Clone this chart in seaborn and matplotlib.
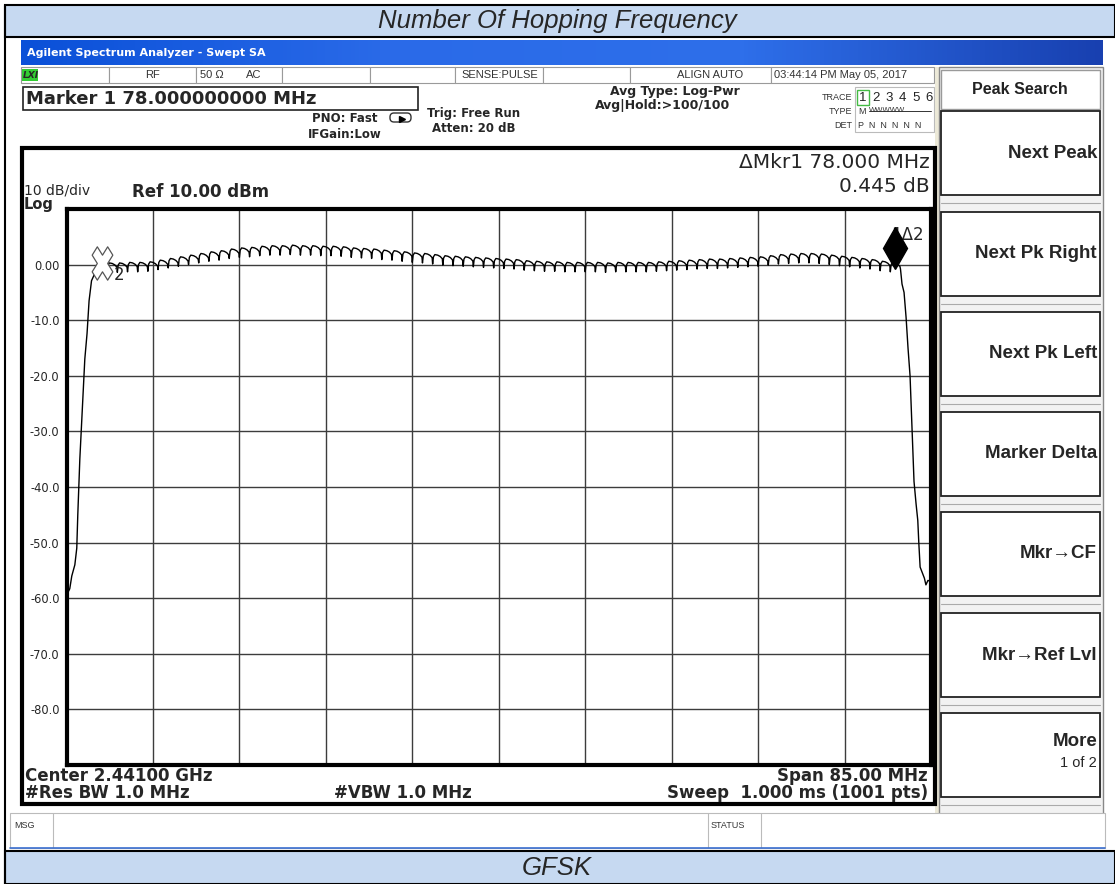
import numpy as np
import pandas as pd
import matplotlib
matplotlib.use("Agg")
import matplotlib.pyplot as plt
import seaborn as sns
from matplotlib.patches import Rectangle, FancyBboxPatch
from matplotlib.colors import LinearSegmentedColormap
from matplotlib.transforms import offset_copy, Affine2D
from matplotlib.markers import MarkerStyle

# ---- data ----
channel_mhz = list(range(2402, 2481))
channel_peak_db = [
    0.2, 0.3, 0.3, 0.4, 0.4, 0.5, 0.8, 1.1, 1.4, 1.7,
    2.0, 2.3, 2.5, 2.8, 3.0, 3.1, 3.3, 3.4, 3.4, 3.5,
    3.4, 3.4, 3.3, 3.3, 3.2, 3.0, 2.9, 2.8, 2.6, 2.5,
    2.3, 2.1, 2.0, 1.8, 1.6, 1.5, 1.4, 1.3, 1.2, 1.1,
    1.0, 0.9, 0.7, 0.6, 0.5, 0.5, 0.4, 0.4, 0.4, 0.4,
    0.3, 0.4, 0.4, 0.4, 0.4, 0.5, 0.6, 0.7, 0.8, 0.9,
    1.0, 1.0, 1.1, 1.2, 1.3, 1.4, 1.6, 1.8, 1.9, 2.0,
    2.0, 1.9, 1.7, 1.5, 1.3, 1.1, 0.9, 0.6, 0.4,
]
# shape of one hop channel under max hold (offset from channel centre)
lobe_offset_mhz = [-0.5, -0.42, -0.28, 0.0, 0.25, 0.45]
lobe_shape_db = [-1.7, -0.4, 0.0, -0.1, -0.35, -0.75]

left_skirt_mhz = [2398.5, 2398.63, 2398.82, 2399.02, 2399.32, 2399.51, 2399.61,
                  2399.81, 2400.1, 2400.3, 2400.52, 2400.72, 2400.96, 2401.28]
left_skirt_db = [-59.4, -59.0, -58.3, -56.0, -54.0, -51.0, -45.0,
                 -35.0, -24.4, -17.0, -12.4, -6.5, -2.9, -1.6]
right_skirt_mhz = [2480.5, 2480.65, 2480.85, 2481.05, 2481.24, 2481.44, 2481.64,
                   2481.83, 2482.03, 2482.2, 2482.3, 2482.43, 2482.62, 2482.85,
                   2483.0, 2483.2, 2483.5]
right_skirt_db = [-0.8, -3.5, -5.0, -9.5, -15.0, -20.0, -30.0,
                  -39.0, -43.0, -46.0, -50.0, -54.4, -55.3, -56.4,
                  -57.6, -56.8, -57.0]

y_ticks_db = [0, -10, -20, -30, -40, -50, -60, -70, -80]
y_tick_labels = ["0.00", "-10.0", "-20.0", "-30.0", "-40.0", "-50.0", "-60.0", "-70.0", "-80.0"]
center_mhz = 2441.0
span_mhz = 85.0
ref_db = 10.0
div_db = 10.0

softkeys = ["Next Peak", "Next Pk Right", "Next Pk Left", "Marker Delta",
            "Mkr\u2192CF", "Mkr\u2192Ref Lvl"]

# ---- build trace ----
freq = list(left_skirt_mhz)
level = list(left_skirt_db)
for ch, pk in zip(channel_mhz, channel_peak_db):
    for off, sh in zip(lobe_offset_mhz, lobe_shape_db):
        freq.append(ch + off)
        level.append(pk + sh)
freq += right_skirt_mhz
level += right_skirt_db
trace = pd.DataFrame({"freq": freq, "db": level})

sns.set_style("white")
plt.rcParams["font.family"] = ["DejaVu Sans"]

W, H = 1115, 884
fig = plt.figure(figsize=(W / 100, H / 100), dpi=100)
bg = fig.add_axes([0, 0, 1, 1])
bg.axis("off")

band = "#C6D9F1"
# top / bottom caption bands
bg.add_patch(Rectangle((5, 5), 1110, 32, facecolor=band, edgecolor="black", lw=1.5))
bg.add_patch(Rectangle((5, 851), 1110, 33, facecolor=band, edgecolor="black", lw=1.5))
bg.plot([5, 5], [5, 884], color="black", lw=1.5)
bg.text(557, 21, "Number Of Hopping Frequency", ha="center", va="center", fontsize=18.5,
        style="italic", family="Liberation Sans")
bg.text(557, 868, "GFSK", ha="center", va="center", fontsize=18.5,
        style="italic", family="Liberation Sans")

# window title bar
blue = LinearSegmentedColormap.from_list("xp", ["#0A50D8", "#2A6AE8", "#2E6FEA", "#1840B0"])
bg.imshow(np.linspace(0, 1, 256)[None, :], cmap=blue, aspect="auto",
          extent=(21, 1103, 65, 40), zorder=1)
bg.text(27, 53, "Agilent Spectrum Analyzer - Swept SA", color="white", fontsize=8,
        fontweight="bold", va="center")

# status row
for x0, x1 in [(21, 109), (109, 196), (196, 282), (282, 370), (370, 455), (455, 543),
               (543, 630), (630, 771), (771, 934)]:
    bg.add_patch(Rectangle((x0, 67), x1 - x0, 16, facecolor="white", edgecolor="#9A9A9A", lw=0.8))
bg.add_patch(Rectangle((22, 69), 16, 12, facecolor="#33CC33", edgecolor="none"))
bg.text(23, 75.5, "LXI", fontsize=6.5, fontweight="bold", style="italic", va="center")
st = dict(fontsize=8, color="#333333", va="center", family="Liberation Sans")
bg.text(152, 75.5, "RF", ha="center", **st)
bg.text(200, 75.5, "50 \u03a9", **st)
bg.text(246, 75.5, "AC", **st)
bg.text(500, 75.5, "SENSE:PULSE", ha="center", **st)
bg.text(743, 75.5, "ALIGN AUTO", ha="right", **st)
bg.text(774, 75.5, "03:44:14 PM May 05, 2017", **st)

# marker readout box
bg.add_patch(Rectangle((23, 87), 395, 23, facecolor="white", edgecolor="#222222", lw=1.2))
bg.text(26, 99, "Marker 1 78.000000000 MHz", fontsize=13, fontweight="bold", va="center")
sm = dict(fontsize=8.5, fontweight="bold", va="center")
bg.text(377, 118, "PNO: Fast", ha="right", **sm)
bg.text(382, 134, "IFGain:Low", ha="right", **sm)
bg.add_patch(FancyBboxPatch((390, 113), 21, 9, boxstyle="round,pad=0,rounding_size=4",
                            facecolor="white", edgecolor="#333333", lw=1))
bg.plot([402], [119], marker=">", color="black", ms=4)
bg.text(427, 113, "Trig: Free Run", **sm)
bg.text(432, 129, "Atten: 20 dB", **sm)
bg.text(740, 92, "Avg Type: Log-Pwr", ha="right", fontsize=9, fontweight="bold", va="center")
bg.text(730, 105, "Avg|Hold:>100/100", ha="right", fontsize=9, fontweight="bold", va="center")

# trace status block
tr = dict(fontsize=6.5, color="#333333", va="center", family="Liberation Sans")
bg.add_patch(Rectangle((855, 87), 79, 45, facecolor="white", edgecolor="#BBBBBB", lw=0.8))
bg.text(852, 97, "TRACE", ha="right", **tr)
bg.text(852, 111, "TYPE", ha="right", **tr)
bg.text(852, 125, "DET", ha="right", **tr)
bg.add_patch(Rectangle((857, 90), 12, 15, facecolor="none", edgecolor="#44BB44", lw=1))
for i, lab in enumerate("123456"):
    bg.text(863 + i * 13.2, 98, lab, ha="center", va="center", fontsize=9.5, color="#222222",
            family="Liberation Sans")
bg.text(858, 111, "M", **tr)
bg.text(869, 111, "WWWWW", fontsize=5.5, color="#333333", va="center", family="Liberation Sans")
bg.plot([869, 931], [111, 111], color="#333333", lw=0.7)
bg.text(858, 125, "P  N  N  N  N  N", **tr)

# right soft-key panel
bg.add_patch(Rectangle((935, 67), 5, 752, facecolor="#ECE9D8", edgecolor="none"))
bg.add_patch(Rectangle((939, 67), 164, 752, facecolor="#F2F2F2", edgecolor="#888888", lw=1))
bg.add_patch(Rectangle((941, 70), 159, 39, facecolor="white", edgecolor="#9A9A9A", lw=1))
bg.text(1020, 89, "Peak Search", ha="center", va="center", fontsize=11.5, fontweight="bold",
        family="Liberation Sans", color="#222222")
tops = [111, 212, 312, 412, 512, 613, 713]
for top in tops:
    bg.add_patch(Rectangle((941, top), 159, 84, facecolor="white", edgecolor="#222222", lw=1.3))
    bg.plot([941, 1100], [top + 92, top + 92], color="#AAAAAA", lw=0.8)
for top, key in zip(tops, softkeys):
    bg.text(1097, top + 42, key, ha="right", va="center", fontsize=13.5, fontweight="bold",
            family="Liberation Sans")
bg.text(1097, 742, "More", ha="right", va="center", fontsize=13.5, fontweight="bold",
        family="Liberation Sans")
bg.text(1097, 763, "1 of 2", ha="right", va="center", fontsize=10.5, family="Liberation Sans")

# main display frame
bg.add_patch(Rectangle((22, 148), 913, 656, facecolor="white", edgecolor="black", lw=3))
bg.text(930, 163, "\u0394Mkr1 78.000 MHz", ha="right", va="center", fontsize=14.5)
bg.text(930, 186, "0.445 dB", ha="right", va="center", fontsize=14.5)
bg.text(24, 191, "10 dB/div", va="center", fontsize=10)
bg.text(24, 204, "Log", va="center", fontsize=10.5, fontweight="bold")
bg.text(132, 192, "Ref 10.00 dBm", va="center", fontsize=12, fontweight="bold")
bg.text(25, 776, "Center 2.44100 GHz", va="center", fontsize=12, fontweight="bold")
bg.text(928, 776, "Span 85.00 MHz", ha="right", va="center", fontsize=12, fontweight="bold")
bg.text(25, 793, "#Res BW 1.0 MHz", va="center", fontsize=12, fontweight="bold")
bg.text(334, 793, "#VBW 1.0 MHz", va="center", fontsize=12, fontweight="bold")
bg.text(928, 793, "Sweep  1.000 ms (1001 pts)", ha="right", va="center", fontsize=12,
        fontweight="bold")

# message row
bg.add_patch(Rectangle((10, 813), 1095, 35, facecolor="white", edgecolor="#BBBBBB", lw=0.8))
bg.plot([53, 53], [813, 848], color="#BBBBBB", lw=0.8)
bg.plot([708, 708], [813, 848], color="#BBBBBB", lw=0.8)
bg.plot([761, 761], [813, 848], color="#BBBBBB", lw=0.8)
bg.plot([10, 1105], [848, 848], color="#3A6FD0", lw=1.2)
bg.text(14, 826, "MSG", fontsize=6.5, va="center", color="#333333", family="Liberation Sans")
bg.text(711, 826, "STATUS", fontsize=6.5, va="center", color="#333333", family="Liberation Sans")

bg.set_xlim(0, W)
bg.set_ylim(H, 0)

# ---- spectrum graticule ----
gx0, gx1, gy0, gy1 = 66.5, 931, 209, 765
ax = fig.add_axes([gx0 / W, 1 - gy1 / H, (gx1 - gx0) / W, (gy1 - gy0) / H])
sns.lineplot(data=trace, x="freq", y="db", ax=ax, color="black", lw=1.0,
             sort=False, estimator=None)
ax.set_xlim(center_mhz - span_mhz / 2, center_mhz + span_mhz / 2)
ax.set_ylim(ref_db - 10 * div_db, ref_db)
ax.set_xticks(np.arange(center_mhz - span_mhz / 2, center_mhz + span_mhz / 2 + 0.1, span_mhz / 10))
ax.set_xticklabels([])
ax.set_yticks(y_ticks_db)
ax.set_yticklabels(y_tick_labels)
ax.tick_params(axis="both", length=0, pad=5, labelsize=8.3)
ax.grid(True, color="#3C3C3C", lw=1)
ax.set_xlabel("")
ax.set_ylabel("")
for s in ax.spines.values():
    s.set_linewidth(3)
    s.set_color("black")

# marker 2 (reference) : outlined X
xm = MarkerStyle("X")
xpath = xm.get_path().transformed(Affine2D().scale(0.62, 1.0))
ax.plot([channel_mhz[0]], [channel_peak_db[0]], marker=xpath, ms=24, mfc="white",
        mec="#555555", mew=0.9, zorder=5)
ax.annotate("2", (channel_mhz[0], channel_peak_db[0]), xytext=(12, -8),
            textcoords="offset points", ha="center", va="center", fontsize=12)

# marker 1 (delta) : black diamond sitting on the trace
up = offset_copy(ax.transData, fig=fig, x=0, y=14, units="dots")
ax.plot([channel_mhz[-1]], [channel_peak_db[-1]], marker="d", ms=21, color="black",
        transform=up, zorder=5)
ax.annotate("1\u03942", (channel_mhz[-1], channel_peak_db[-1]), xytext=(9, 20),
            textcoords="offset points", ha="center", va="center", fontsize=12)

fig.savefig("out.png", dpi=100)
